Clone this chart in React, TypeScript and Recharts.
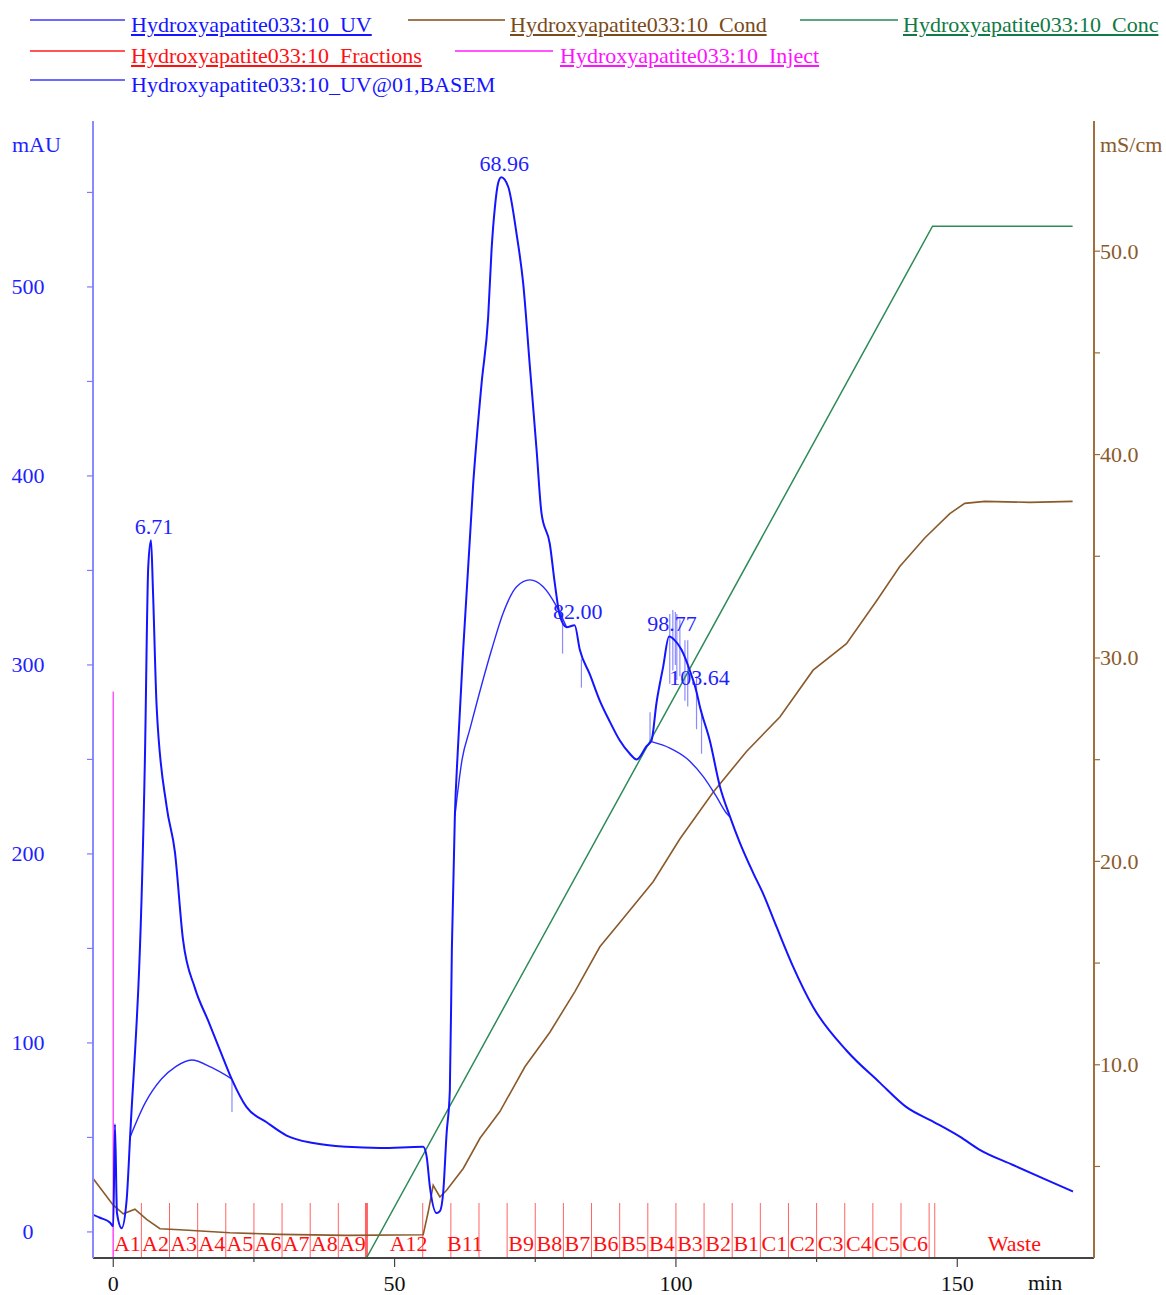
import React from "react";
import {
  ComposedChart,
  Line,
  Scatter,
  XAxis,
  YAxis,
  ReferenceLine,
} from "recharts";

const FONT = "'Liberation Serif', 'Times New Roman', serif";

// UV absorbance, [min, mAU]
const uvTrace: [number, number][] = [
  [-3.55, 9], [-2.36, 7.5], [-0.59, 5], [0, 3], [0.3, 57], [0.66, 10], [1.49, 2], [2.38, 17],
  [2.97, 49], [5.63, 251], [6.22, 352], [6.71, 366], [7.05, 340], [7.71, 278], [9.49, 225],
  [10.96, 201], [12.38, 155], [14.52, 129], [16.83, 112], [19.26, 94], [21.04, 81], [23.7, 66],
  [27.26, 58], [30.81, 51], [35.54, 47], [41.47, 45], [47.39, 44.4], [55.08, 45], [55.69, 40],
  [56.27, 24], [57.46, 10], [58.05, 11], [58.64, 21], [59.24, 52], [59.82, 75], [60.18, 150],
  [60.71, 220], [61.24, 255], [62.19, 308], [63.97, 396], [65.46, 449], [66.63, 484], [67.24, 520],
  [67.82, 542], [68.41, 555], [68.96, 558], [70.19, 553], [71.68, 528], [72.85, 502], [74.04, 458],
  [75.23, 414], [76.12, 380], [77.59, 364], [78.48, 343], [79.37, 326], [80.56, 320], [82.0, 321],
  [82.92, 308], [84.7, 295], [86.48, 281], [88.25, 270], [90.03, 260], [91.81, 253], [93.0, 250],
  [94.78, 257], [95.66, 260], [96.55, 280], [97.73, 299], [98.77, 315], [99.8, 313], [100.99, 308],
  [102.47, 297], [103.64, 286], [104.25, 278], [106.02, 260], [107.79, 236], [109.57, 220],
  [111.35, 206], [113.72, 190], [115.49, 179], [117.87, 161.5], [120.82, 140.4], [124.38, 119],
  [130.31, 96], [136.23, 79], [140.97, 66], [145.7, 58.4], [150.45, 50.4], [154.0, 43.4],
  [159.92, 35.4], [165.85, 27.5], [170.57, 21.4],
];

// baseline-corrected UV (BASEM), only where it leaves the raw trace
const basemArcs: [number, number][][] = [
  [[2.97, 50], [5.63, 68], [8.6, 81], [11.1, 87.5], [13.93, 91], [17.48, 87], [21.04, 81]],
  [[60.71, 220], [62.0, 250], [63.38, 266], [67.24, 308], [69.3, 327.5], [71.68, 341.4],
    [74.04, 345], [76.4, 341.4], [78.78, 331], [80.56, 320]],
  [[95.66, 259.4], [98.92, 256], [101.88, 250.6], [104.83, 241], [107.2, 230.3], [108.99, 221.5],
    [109.57, 219.7]],
];

// conductivity, [min, mS/cm]
const condTrace: [number, number][] = [
  [-3.55, 4.4], [0, 3.1], [1.78, 2.67], [3.85, 2.9], [5.93, 2.4], [8.3, 1.94], [11.85, 1.89],
  [20.7, 1.74], [29.6, 1.66], [41.47, 1.61], [55.08, 1.64], [55.97, 2.76], [56.86, 4.07],
  [58.05, 3.5], [59.24, 3.83], [62.2, 4.9], [65.2, 6.4], [68.71, 7.7], [73.16, 9.9], [77.6, 11.6],
  [82.04, 13.6], [86.48, 15.8], [90.03, 17.0], [95.95, 19.0], [100.69, 21.1], [106.61, 23.4],
  [112.54, 25.4], [118.47, 27.1], [124.38, 29.4], [130.31, 30.7], [135.64, 32.8], [139.78, 34.5],
  [144.22, 35.9], [148.67, 37.1], [151.33, 37.6], [154.89, 37.7], [162.88, 37.65], [170.5, 37.7],
];

// %B gradient
const concTrace: [number, number][] = [
  [-3.6, 0], [45, 0], [145.6, 100], [170.5, 100],
];

// fraction collector cuts (min)
const fractionCuts = [
  0, 5, 10, 15, 20, 25, 30, 35, 40, 45, 55, 60, 65, 70, 75, 80, 85, 90, 95, 100, 105, 110, 115,
  120, 125, 130, 135, 140, 145, 146,
];
const heavyCuts = [45];

// fraction names with their start/end (min)
const fractionNames: [string, number, number][] = [
  ["A1", 0, 5], ["A2", 5, 10], ["A3", 10, 15], ["A4", 15, 20], ["A5", 20, 25], ["A6", 25, 30],
  ["A7", 30, 35], ["A8", 35, 40], ["A9", 40, 45], ["A12", 50, 55], ["B11", 60, 65],
  ["B9", 70, 75], ["B8", 75, 80], ["B7", 80, 85], ["B6", 85, 90], ["B5", 90, 95], ["B4", 95, 100],
  ["B3", 100, 105], ["B2", 105, 110], ["B1", 110, 115], ["C1", 115, 120], ["C2", 120, 125],
  ["C3", 125, 130], ["C4", 130, 135], ["C5", 135, 140], ["C6", 140, 145], ["Waste", 146, 174.3],
];

// short raw-signal spikes, [min, low mAU, high mAU]
const uvSpikes: [number, number, number][] = [
  [21.1, 63.5, 80.4], [79.85, 306, 327.5], [83.2, 288, 303], [95.4, 259, 275], [98.9, 290, 327],
  [99.45, 297, 329], [99.9, 300, 328], [100.16, 292, 327], [100.7, 294, 324], [101.6, 281, 313],
  [102.1, 278, 313], [103.66, 266, 294], [104.55, 253, 276],
];

const injectTime = 0;
const injectHeight = 286;

const peakTimes = [6.71, 68.96, 82.0, 98.77, 103.64];

const uvTicks = [0, 50, 100, 150, 200, 250, 300, 350, 400, 450, 500, 550];
const condTicks = [5, 10, 15, 20, 25, 30, 35, 40, 45, 50];
const timeTicks = [0, 25, 50, 75, 100, 125, 150];

const X_DOMAIN: [number, number] = [-3.6, 174.3];
const UV_DOMAIN: [number, number] = [-13.8, 587.8];
const COND_DOMAIN: [number, number] = [0.5, 56.4];
const CONC_DOMAIN: [number, number] = [0, 110.2];
const FRACTION_TOP = 15.3;

const toRows = (pts: [number, number][]) => pts.map(([t, v]) => ({ t, v }));

const peakRows = peakTimes.map((t) => {
  const hit = uvTrace.find((p) => p[0] === t);
  return { t, v: hit ? hit[1] : 0, text: t.toFixed(2) };
});

const fractionRows = fractionNames.map(([name, a, b]) => ({ t: (a + b) / 2, v: 0, name }));

const UvTick = ({ x, y, payload }: any) => {
  const v = payload.value;
  return (
    <g>
      <line x1={x - 6} x2={x} y1={y} y2={y} stroke="#7b7bff" strokeWidth={1.2} />
      {v % 100 === 0 && (
        <text x={x - 65} y={y + 7.5} textAnchor="middle" fill="#1f1fff" fontSize={22} fontFamily={FONT}>
          {v}
        </text>
      )}
    </g>
  );
};

const CondTick = ({ x, y, payload }: any) => {
  const v = payload.value;
  return (
    <g>
      <line x1={x} x2={x + 6} y1={y} y2={y} stroke="#9a6a3c" strokeWidth={1.2} />
      {v % 10 === 0 && (
        <text x={x + 6} y={y + 7.5} textAnchor="start" fill="#8b5a2b" fontSize={22} fontFamily={FONT}>
          {v.toFixed(1)}
        </text>
      )}
    </g>
  );
};

const TimeTick = ({ x, y, payload }: any) => {
  const v = payload.value;
  const major = v % 50 === 0;
  return (
    <g>
      <line x1={x} x2={x} y1={y} y2={y + (major ? 9 : 4)} stroke="#444" strokeWidth={1.2} />
      {major && (
        <text x={x} y={y + 33} textAnchor="middle" fill="#111" fontSize={22} fontFamily={FONT}>
          {v}
        </text>
      )}
    </g>
  );
};

const PeakText = (props: any) => {
  const { cx, cy, payload } = props;
  return (
    <text x={cx + 3} y={cy - 6} textAnchor="middle" fill="#1f1fff" fontSize={22} fontFamily={FONT}>
      {payload.text}
    </text>
  );
};

const FractionText = (props: any) => {
  const { cx, cy, payload } = props;
  return (
    <text x={cx} y={cy + 19} textAnchor="middle" fill="#ff1010" fontSize={22} fontFamily={FONT}>
      {payload.name}
    </text>
  );
};

type LegendEntry = {
  label: string;
  line: string;
  text: string;
  x0: number;
  x1: number;
  tx: number;
  y: number;
  underline: boolean;
};

const legendEntries: LegendEntry[] = [
  { label: "Hydroxyapatite033:10_UV", line: "#6b6bff", text: "#1515ff", x0: 30, x1: 125, tx: 131, y: 25, underline: true },
  { label: "Hydroxyapatite033:10_Cond", line: "#a07850", text: "#7a4a1a", x0: 408, x1: 505, tx: 510, y: 25, underline: true },
  { label: "Hydroxyapatite033:10_Conc", line: "#5aa680", text: "#0f7a45", x0: 800, x1: 898, tx: 903, y: 25, underline: true },
  { label: "Hydroxyapatite033:10_Fractions", line: "#ff5555", text: "#ff1010", x0: 30, x1: 125, tx: 131, y: 56, underline: true },
  { label: "Hydroxyapatite033:10_Inject", line: "#ff55ff", text: "#ff10ff", x0: 455, x1: 553, tx: 560, y: 56, underline: true },
  { label: "Hydroxyapatite033:10_UV@01,BASEM", line: "#6b6bff", text: "#1515ff", x0: 30, x1: 125, tx: 131, y: 85, underline: false },
];

const textStyle: React.CSSProperties = {
  position: "absolute",
  fontFamily: FONT,
  fontSize: 22,
  lineHeight: "26px",
  whiteSpace: "nowrap",
};

export default function App() {
  return (
    <div style={{ position: "absolute", left: 0, top: 0, width: 1166, height: 1295, background: "#fff" }}>
      <ComposedChart
        width={1166}
        height={1295}
        margin={{ top: 121, right: 0, bottom: 0, left: 0 }}
      >
        <XAxis
          dataKey="t"
          type="number"
          domain={X_DOMAIN}
          allowDataOverflow
          ticks={timeTicks}
          interval={0}
          tickLine={false}
          tickSize={0}
          tickMargin={0}
          height={37}
          axisLine={{ stroke: "#444", strokeWidth: 2 }}
          tick={<TimeTick />}
        />
        <YAxis
          yAxisId="uv"
          orientation="left"
          type="number"
          domain={UV_DOMAIN}
          allowDataOverflow
          ticks={uvTicks}
          interval={0}
          width={93}
          tickLine={false}
          tickSize={0}
          tickMargin={0}
          axisLine={{ stroke: "#8a8aff", strokeWidth: 2 }}
          tick={<UvTick />}
        />
        <YAxis
          yAxisId="cond"
          orientation="right"
          type="number"
          domain={COND_DOMAIN}
          allowDataOverflow
          ticks={condTicks}
          interval={0}
          width={72}
          tickLine={false}
          tickSize={0}
          tickMargin={0}
          axisLine={{ stroke: "#a0703f", strokeWidth: 2 }}
          tick={<CondTick />}
        />
        <YAxis
          yAxisId="conc"
          orientation="right"
          type="number"
          domain={CONC_DOMAIN}
          allowDataOverflow
          width={0}
          hide
        />

        {fractionCuts.map((t) => (
          <ReferenceLine
            key={`cut-${t}`}
            yAxisId="uv"
            ifOverflow="visible"
            segment={[{ x: t, y: UV_DOMAIN[0] }, { x: t, y: FRACTION_TOP }]}
            stroke="#ff3030"
            strokeOpacity={0.75}
            strokeWidth={heavyCuts.includes(t) ? 3 : 1}
          />
        ))}

        <ReferenceLine
          yAxisId="uv"
          ifOverflow="visible"
          segment={[{ x: injectTime, y: UV_DOMAIN[0] }, { x: injectTime, y: injectHeight }]}
          stroke="#ff55ff"
          strokeWidth={1.5}
        />

        {uvSpikes.map(([t, lo, hi]) => (
          <ReferenceLine
            key={`spike-${t}`}
            yAxisId="uv"
            ifOverflow="visible"
            segment={[{ x: t, y: lo }, { x: t, y: hi }]}
            stroke="#5a5aff"
            strokeOpacity={0.7}
            strokeWidth={1.2}
          />
        ))}

        <Line
          yAxisId="conc"
          data={toRows(concTrace)}
          dataKey="v"
          type="linear"
          stroke="#2e8b57"
          strokeWidth={1.5}
          dot={false}
          isAnimationActive={false}
        />
        <Line
          yAxisId="cond"
          data={toRows(condTrace)}
          dataKey="v"
          type="linear"
          stroke="#8b5a2b"
          strokeWidth={1.6}
          dot={false}
          isAnimationActive={false}
        />
        {basemArcs.map((arc, i) => (
          <Line
            key={`basem-${i}`}
            yAxisId="uv"
            data={toRows(arc)}
            dataKey="v"
            type="monotone"
            stroke="#2a2aff"
            strokeWidth={1.4}
            dot={false}
            isAnimationActive={false}
          />
        ))}
        <Line
          yAxisId="uv"
          data={toRows(uvTrace)}
          dataKey="v"
          type="monotone"
          stroke="#1414ff"
          strokeWidth={2}
          dot={false}
          isAnimationActive={false}
        />

        <Scatter
          yAxisId="uv"
          data={fractionRows}
          dataKey="v"
          shape={<FractionText />}
          isAnimationActive={false}
        />
        <Scatter
          yAxisId="uv"
          data={peakRows}
          dataKey="v"
          shape={<PeakText />}
          isAnimationActive={false}
        />
      </ComposedChart>

      {legendEntries.map((e) => (
        <React.Fragment key={e.label}>
          <div
            style={{
              position: "absolute",
              left: e.x0,
              top: e.y - 6,
              width: e.x1 - e.x0,
              height: 0,
              borderTop: `2px solid ${e.line}`,
            }}
          />
          <span
            style={{
              ...textStyle,
              left: e.tx,
              top: e.y - 13,
              color: e.text,
              textDecoration: e.underline ? "underline" : "none",
            }}
          >
            {e.label}
          </span>
        </React.Fragment>
      ))}

      <span style={{ ...textStyle, left: 12, top: 132, color: "#1f1fff" }}>mAU</span>
      <span style={{ ...textStyle, left: 1100, top: 132, color: "#8b5a2b" }}>mS/cm</span>
      <span style={{ ...textStyle, left: 1028, top: 1270, color: "#111" }}>min</span>
    </div>
  );
}
